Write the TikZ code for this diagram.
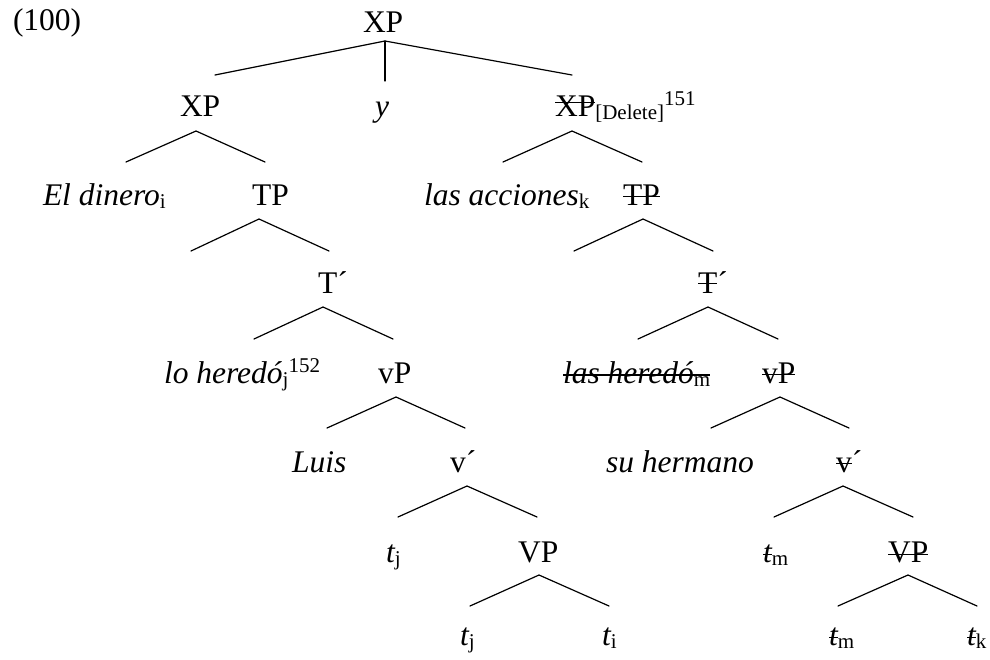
\documentclass[tikz,border=0pt]{standalone}
\usepackage{fontspec}
\setmainfont{Liberation Serif}
\newcommand\lsub[1]{\raisebox{-3pt}{\fontsize{21}{21}\selectfont\upshape #1}}
\newcommand\lsup[1]{\raisebox{11pt}{\fontsize{21}{21}\selectfont\upshape #1}}
\newcommand\strk[2][8pt]{\setbox0=\hbox{#2}\rlap{\rule[#1]{\wd0}{1.3pt}}\box0}
\tikzset{
  lbl/.style={anchor=base west, inner sep=0pt, outer sep=0pt, font=\fontsize{31.5}{35}\selectfont},
  branch/.style={line width=1.2pt, line cap=round}
}
\begin{document}
\begin{tikzpicture}[x=1pt, y=-1pt]
\useasboundingbox (0,0) rectangle (990,659);
% labels
\node[lbl] (ex) at (13,30) {(100)};
\node[lbl] (root) at (363,32) {XP};
\node[lbl] (xpl) at (180,116) {XP};
\node[lbl] (conj) at (375,116) {\itshape y};
\node[lbl] (xpr) at (555,116) {\strk[13pt]{XP}\lsub{[Delete]}\lsup{151}};
\node[lbl] (dinero) at (43,205) {\itshape El dinero\lsub{i}};
\node[lbl] (tpl) at (252,205) {TP};
\node[lbl] (acciones) at (424,205) {\itshape las acciones\lsub{k}};
\node[lbl] (tpr) at (623,205) {\strk{TP}};
\node[lbl] (tbl) at (318,293) {T´};
\node[lbl] (tbr) at (698,293) {\strk[9pt]{T}´};
\node[lbl] (lohered) at (164,383) {\itshape lo heredó\lsub{j}\lsup{152}};
\node[lbl] (vpl) at (378,383) {vP};
\node[lbl] (lashered) at (563,383) {\strk[7.5pt]{\itshape las heredó\lsub{m}}};
\node[lbl] (vpr) at (762,383) {\strk{vP}};
\node[lbl] (luis) at (292,472) {\itshape Luis};
\node[lbl] (vbl) at (450,472) {v´};
\node[lbl] (herm) at (606,472) {\itshape su hermano};
\node[lbl] (vbr) at (836,472) {\strk{v}´};
\node[lbl] (tj1) at (386,562) {\itshape t\lsub{j}};
\node[lbl] (VPl) at (518,562) {VP};
\node[lbl] (tm1) at (763,562) {\strk[7pt]{\itshape t}\lsub{m}};
\node[lbl] (VPr) at (888,562) {\strk[7pt]{VP}};
\node[lbl] (tj2) at (460,645) {\itshape t\lsub{j}};
\node[lbl] (ti) at (602,645) {\itshape t\lsub{i}};
\node[lbl] (tm2) at (829,645) {\strk[7pt]{\itshape t}\lsub{m}};
\node[lbl] (tk) at (967,645) {\strk[7pt]{\itshape t}\lsub{k}};
% branch points
\coordinate (rootA) at (385,41);
\coordinate (rootL) at (215,75);
\coordinate (rootM) at (385,81);
\coordinate (rootR) at (572,75);
\coordinate (xplA) at (196,131);
\coordinate (xplL) at (126,162);
\coordinate (xplR) at (265,162);
\coordinate (xprA) at (572,131);
\coordinate (xprL) at (503,162);
\coordinate (xprR) at (642,162);
\coordinate (tplA) at (259,219);
\coordinate (tplL) at (191,251);
\coordinate (tplR) at (329,251);
\coordinate (tprA) at (643,219);
\coordinate (tprL) at (574,251);
\coordinate (tprR) at (713,251);
\coordinate (tblA) at (323,307);
\coordinate (tblL) at (254,339);
\coordinate (tblR) at (393,339);
\coordinate (tbrA) at (708,307);
\coordinate (tbrL) at (638,339);
\coordinate (tbrR) at (778,339);
\coordinate (vplA) at (396,397);
\coordinate (vplL) at (327,428);
\coordinate (vplR) at (465,428);
\coordinate (vprA) at (780,397);
\coordinate (vprL) at (711,428);
\coordinate (vprR) at (849,428);
\coordinate (vblA) at (467,486);
\coordinate (vblL) at (398,517);
\coordinate (vblR) at (537,517);
\coordinate (vbrA) at (843,486);
\coordinate (vbrL) at (774,517);
\coordinate (vbrR) at (913,517);
\coordinate (VPlA) at (539,575);
\coordinate (VPlL) at (470,606);
\coordinate (VPlR) at (609,606);
\coordinate (VPrA) at (908,575);
\coordinate (VPrL) at (838,606);
\coordinate (VPrR) at (977,606);
% branches
\draw[branch] (rootL) -- (rootA) -- (rootR);
\draw[branch] (rootA) -- (rootM);
\draw[branch] (xplL) -- (xplA) -- (xplR);
\draw[branch] (xprL) -- (xprA) -- (xprR);
\draw[branch] (tplL) -- (tplA) -- (tplR);
\draw[branch] (tprL) -- (tprA) -- (tprR);
\draw[branch] (tblL) -- (tblA) -- (tblR);
\draw[branch] (tbrL) -- (tbrA) -- (tbrR);
\draw[branch] (vplL) -- (vplA) -- (vplR);
\draw[branch] (vprL) -- (vprA) -- (vprR);
\draw[branch] (vblL) -- (vblA) -- (vblR);
\draw[branch] (vbrL) -- (vbrA) -- (vbrR);
\draw[branch] (VPlL) -- (VPlA) -- (VPlR);
\draw[branch] (VPrL) -- (VPrA) -- (VPrR);
\end{tikzpicture}
\end{document}
